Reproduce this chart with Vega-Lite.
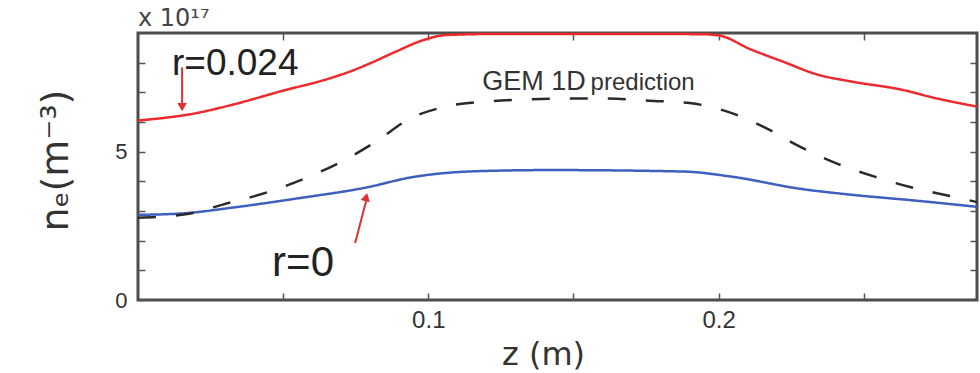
{
  "$schema": "https://vega.github.io/schema/vega-lite/v6.json",
  "width": 839,
  "height": 267,
  "autosize": {"type": "none"},
  "padding": {"left": 138, "top": 33, "right": 3, "bottom": 73},
  "background": "white",
  "config": {
    "view": {"stroke": "#4d4d4d", "strokeWidth": 3},
    "axis": {
      "grid": false,
      "domain": false,
      "labelFont": "Liberation Sans",
      "titleFont": "Liberation Sans",
      "labelColor": "#333333",
      "titleColor": "#333333",
      "tickColor": "#555555",
      "tickWidth": 1.5,
      "titleFontWeight": "normal"
    }
  },
  "datasets": {
    "profiles": [
      {"series": "r=0.024", "z": 0.0, "ne": 6.05},
      {"series": "r=0.024", "z": 0.019, "ne": 6.28},
      {"series": "r=0.024", "z": 0.034, "ne": 6.62},
      {"series": "r=0.024", "z": 0.049, "ne": 7.03},
      {"series": "r=0.024", "z": 0.066, "ne": 7.47},
      {"series": "r=0.024", "z": 0.073, "ne": 7.7},
      {"series": "r=0.024", "z": 0.08, "ne": 7.98},
      {"series": "r=0.024", "z": 0.089, "ne": 8.38},
      {"series": "r=0.024", "z": 0.098, "ne": 8.75},
      {"series": "r=0.024", "z": 0.106, "ne": 8.93},
      {"series": "r=0.024", "z": 0.125, "ne": 8.97},
      {"series": "r=0.024", "z": 0.159, "ne": 8.97},
      {"series": "r=0.024", "z": 0.194, "ne": 8.96},
      {"series": "r=0.024", "z": 0.2, "ne": 8.92},
      {"series": "r=0.024", "z": 0.211, "ne": 8.45},
      {"series": "r=0.024", "z": 0.222, "ne": 8.04},
      {"series": "r=0.024", "z": 0.234, "ne": 7.6},
      {"series": "r=0.024", "z": 0.246, "ne": 7.36},
      {"series": "r=0.024", "z": 0.263, "ne": 7.09},
      {"series": "r=0.024", "z": 0.274, "ne": 6.82},
      {"series": "r=0.024", "z": 0.289, "ne": 6.52},

      {"series": "r=0", "z": 0.0, "ne": 2.87},
      {"series": "r=0", "z": 0.0155, "ne": 2.92},
      {"series": "r=0", "z": 0.033, "ne": 3.12},
      {"series": "r=0", "z": 0.056, "ne": 3.44},
      {"series": "r=0", "z": 0.078, "ne": 3.78},
      {"series": "r=0", "z": 0.095, "ne": 4.15},
      {"series": "r=0", "z": 0.107, "ne": 4.29},
      {"series": "r=0", "z": 0.124, "ne": 4.36},
      {"series": "r=0", "z": 0.142, "ne": 4.38},
      {"series": "r=0", "z": 0.188, "ne": 4.33},
      {"series": "r=0", "z": 0.205, "ne": 4.15},
      {"series": "r=0", "z": 0.228, "ne": 3.75},
      {"series": "r=0", "z": 0.2455, "ne": 3.55},
      {"series": "r=0", "z": 0.269, "ne": 3.34},
      {"series": "r=0", "z": 0.289, "ne": 3.14},

      {"series": "GEM 1D prediction", "z": 0.0, "ne": 2.77},
      {"series": "GEM 1D prediction", "z": 0.017, "ne": 2.9},
      {"series": "GEM 1D prediction", "z": 0.03, "ne": 3.24},
      {"series": "GEM 1D prediction", "z": 0.0445, "ne": 3.63},
      {"series": "GEM 1D prediction", "z": 0.058, "ne": 4.12},
      {"series": "GEM 1D prediction", "z": 0.07, "ne": 4.66},
      {"series": "GEM 1D prediction", "z": 0.082, "ne": 5.34},
      {"series": "GEM 1D prediction", "z": 0.093, "ne": 6.08},
      {"series": "GEM 1D prediction", "z": 0.106, "ne": 6.52},
      {"series": "GEM 1D prediction", "z": 0.12, "ne": 6.69},
      {"series": "GEM 1D prediction", "z": 0.134, "ne": 6.76},
      {"series": "GEM 1D prediction", "z": 0.1466, "ne": 6.79},
      {"series": "GEM 1D prediction", "z": 0.162, "ne": 6.79},
      {"series": "GEM 1D prediction", "z": 0.176, "ne": 6.72},
      {"series": "GEM 1D prediction", "z": 0.19, "ne": 6.64},
      {"series": "GEM 1D prediction", "z": 0.203, "ne": 6.35},
      {"series": "GEM 1D prediction", "z": 0.216, "ne": 5.81},
      {"series": "GEM 1D prediction", "z": 0.228, "ne": 5.17},
      {"series": "GEM 1D prediction", "z": 0.241, "ne": 4.59},
      {"series": "GEM 1D prediction", "z": 0.254, "ne": 4.15},
      {"series": "GEM 1D prediction", "z": 0.267, "ne": 3.78},
      {"series": "GEM 1D prediction", "z": 0.281, "ne": 3.48},
      {"series": "GEM 1D prediction", "z": 0.289, "ne": 3.3}
    ],
    "arrows": [
      {"target": "r=0.024", "z": 0.0152, "ne": 7.84, "z2": 0.0152, "ne2": 6.45},
      {"target": "r=0", "z": 0.0748, "ne": 1.92, "z2": 0.079, "ne2": 3.5}
    ]
  },
  "layer": [
    {
      "data": {"name": "profiles"},
      "mark": {"type": "line", "interpolate": "monotone"},
      "encoding": {
        "x": {
          "field": "z", "type": "quantitative",
          "scale": {"domain": [0, 0.289], "nice": false, "zero": false},
          "axis": {
            "orient": "bottom",
            "values": [0.05, 0.1, 0.15, 0.2, 0.25],
            "format": ".1f",
            "labelExpr": "datum.value == 0.1 || datum.value == 0.2 ? datum.label : ''",
            "tickSize": -7,
            "labelPadding": 15,
            "labelFontSize": 24,
            "title": "z (m)",
            "titleFont": "DejaVu Sans",
            "titleFontSize": 32,
            "titleX": 405,
            "titleY": 64,
            "titleBaseline": "alphabetic",
            "titleAlign": "center"
          }
        },
        "y": {
          "field": "ne", "type": "quantitative",
          "scale": {"domain": [0, 9], "nice": false, "zero": false},
          "axis": {
            "orient": "left",
            "values": [0, 1, 2, 3, 4, 5, 6, 7, 8],
            "labelExpr": "datum.value == 0 || datum.value == 5 ? datum.label : ''",
            "tickSize": -7,
            "labelPadding": 18,
            "labelFontSize": 22,
            "title": "nₑ(m⁻³)",
            "titleFont": "DejaVu Sans",
            "titleFontSize": 38,
            "titleAngle": -90,
            "titleX": -71,
            "titleY": 127,
            "titleAlign": "center",
            "titleBaseline": "alphabetic"
          }
        },
        "color": {
          "field": "series", "type": "nominal",
          "scale": {"domain": ["r=0.024", "r=0", "GEM 1D prediction"], "range": ["#ec2a2e", "#3d5fbd", "#2a2a2a"]},
          "legend": null
        },
        "strokeDash": {
          "field": "series", "type": "nominal",
          "scale": {"domain": ["r=0.024", "r=0", "GEM 1D prediction"], "range": [[1, 0], [1, 0], [18, 20]]},
          "legend": null
        },
        "strokeWidth": {
          "field": "series", "type": "nominal",
          "scale": {"domain": ["r=0.024", "r=0", "GEM 1D prediction"], "range": [2.5, 2.5, 3.2]},
          "legend": null
        }
      }
    },
    {
      "data": {"name": "arrows"},
      "mark": {"type": "rule", "color": "#e03034", "strokeWidth": 2},
      "encoding": {
        "x": {
          "field": "z", "type": "quantitative",
          "scale": {"domain": [0, 0.289], "nice": false, "zero": false},
          "axis": {"orient": "top", "values": [0.05, 0.1, 0.15, 0.2, 0.25], "labels": false, "tickSize": -7, "title": null}
        },
        "y": {
          "field": "ne", "type": "quantitative",
          "scale": {"domain": [0, 9], "nice": false, "zero": false},
          "axis": {"orient": "right", "values": [1, 2, 3, 4, 5, 6, 7, 8], "labels": false, "tickSize": -7, "title": null}
        },
        "x2": {"field": "z2"},
        "y2": {"field": "ne2"}
      }
    },
    {
      "data": {"values": [{"z": 0.0152, "ne": 6.5}]},
      "mark": {"type": "point", "shape": "triangle-down", "filled": true, "color": "#e03034", "opacity": 1, "size": 90},
      "encoding": {
        "x": {"field": "z", "type": "quantitative", "scale": {"domain": [0, 0.289], "nice": false, "zero": false}, "axis": null},
        "y": {"field": "ne", "type": "quantitative", "scale": {"domain": [0, 9], "nice": false, "zero": false}, "axis": null}
      }
    },
    {
      "data": {"values": [{"z": 0.0786, "ne": 3.47}]},
      "mark": {"type": "point", "shape": "triangle-up", "filled": true, "color": "#e03034", "opacity": 1, "size": 90, "angle": 13},
      "encoding": {
        "x": {"field": "z", "type": "quantitative", "scale": {"domain": [0, 0.289], "nice": false, "zero": false}, "axis": null},
        "y": {"field": "ne", "type": "quantitative", "scale": {"domain": [0, 9], "nice": false, "zero": false}, "axis": null}
      }
    },
    {
      "data": {"values": [{"label": "r=0.024", "z": 0.0117, "ne": 7.58}]},
      "mark": {"type": "text", "align": "left", "baseline": "alphabetic", "font": "Liberation Sans", "fontSize": 37, "color": "#222222"},
      "encoding": {
        "x": {"field": "z", "type": "quantitative", "scale": {"domain": [0, 0.289], "nice": false, "zero": false}, "axis": null},
        "y": {"field": "ne", "type": "quantitative", "scale": {"domain": [0, 9], "nice": false, "zero": false}, "axis": null},
        "text": {"field": "label"}
      }
    },
    {
      "data": {"values": [{"label": "r=0", "z": 0.0462, "ne": 0.82}]},
      "mark": {"type": "text", "align": "left", "baseline": "alphabetic", "font": "Liberation Sans", "fontSize": 42, "color": "#222222"},
      "encoding": {
        "x": {"field": "z", "type": "quantitative", "scale": {"domain": [0, 0.289], "nice": false, "zero": false}, "axis": null},
        "y": {"field": "ne", "type": "quantitative", "scale": {"domain": [0, 9], "nice": false, "zero": false}, "axis": null},
        "text": {"field": "label"}
      }
    },
    {
      "data": {"values": [{"label": "GEM 1D", "z": 0.1186, "ne": 7.08}]},
      "mark": {"type": "text", "align": "left", "baseline": "alphabetic", "font": "Liberation Sans", "fontSize": 27, "color": "#333333"},
      "encoding": {
        "x": {"field": "z", "type": "quantitative", "scale": {"domain": [0, 0.289], "nice": false, "zero": false}, "axis": null},
        "y": {"field": "ne", "type": "quantitative", "scale": {"domain": [0, 9], "nice": false, "zero": false}, "axis": null},
        "text": {"field": "label"}
      }
    },
    {
      "data": {"values": [{"label": "prediction", "z": 0.1559, "ne": 7.08}]},
      "mark": {"type": "text", "align": "left", "baseline": "alphabetic", "font": "Liberation Sans", "fontSize": 24, "color": "#333333"},
      "encoding": {
        "x": {"field": "z", "type": "quantitative", "scale": {"domain": [0, 0.289], "nice": false, "zero": false}, "axis": null},
        "y": {"field": "ne", "type": "quantitative", "scale": {"domain": [0, 9], "nice": false, "zero": false}, "axis": null},
        "text": {"field": "label"}
      }
    },
    {
      "data": {"values": [{"label": "x 10¹⁷", "z": 0.0, "ne": 9.25}]},
      "mark": {"type": "text", "align": "left", "baseline": "alphabetic", "font": "DejaVu Sans", "fontSize": 24, "color": "#444444"},
      "encoding": {
        "x": {"field": "z", "type": "quantitative", "scale": {"domain": [0, 0.289], "nice": false, "zero": false}, "axis": null},
        "y": {"field": "ne", "type": "quantitative", "scale": {"domain": [0, 9], "nice": false, "zero": false}, "axis": null},
        "text": {"field": "label"}
      }
    }
  ],
  "resolve": {"axis": {"x": "independent", "y": "independent"}}
}
